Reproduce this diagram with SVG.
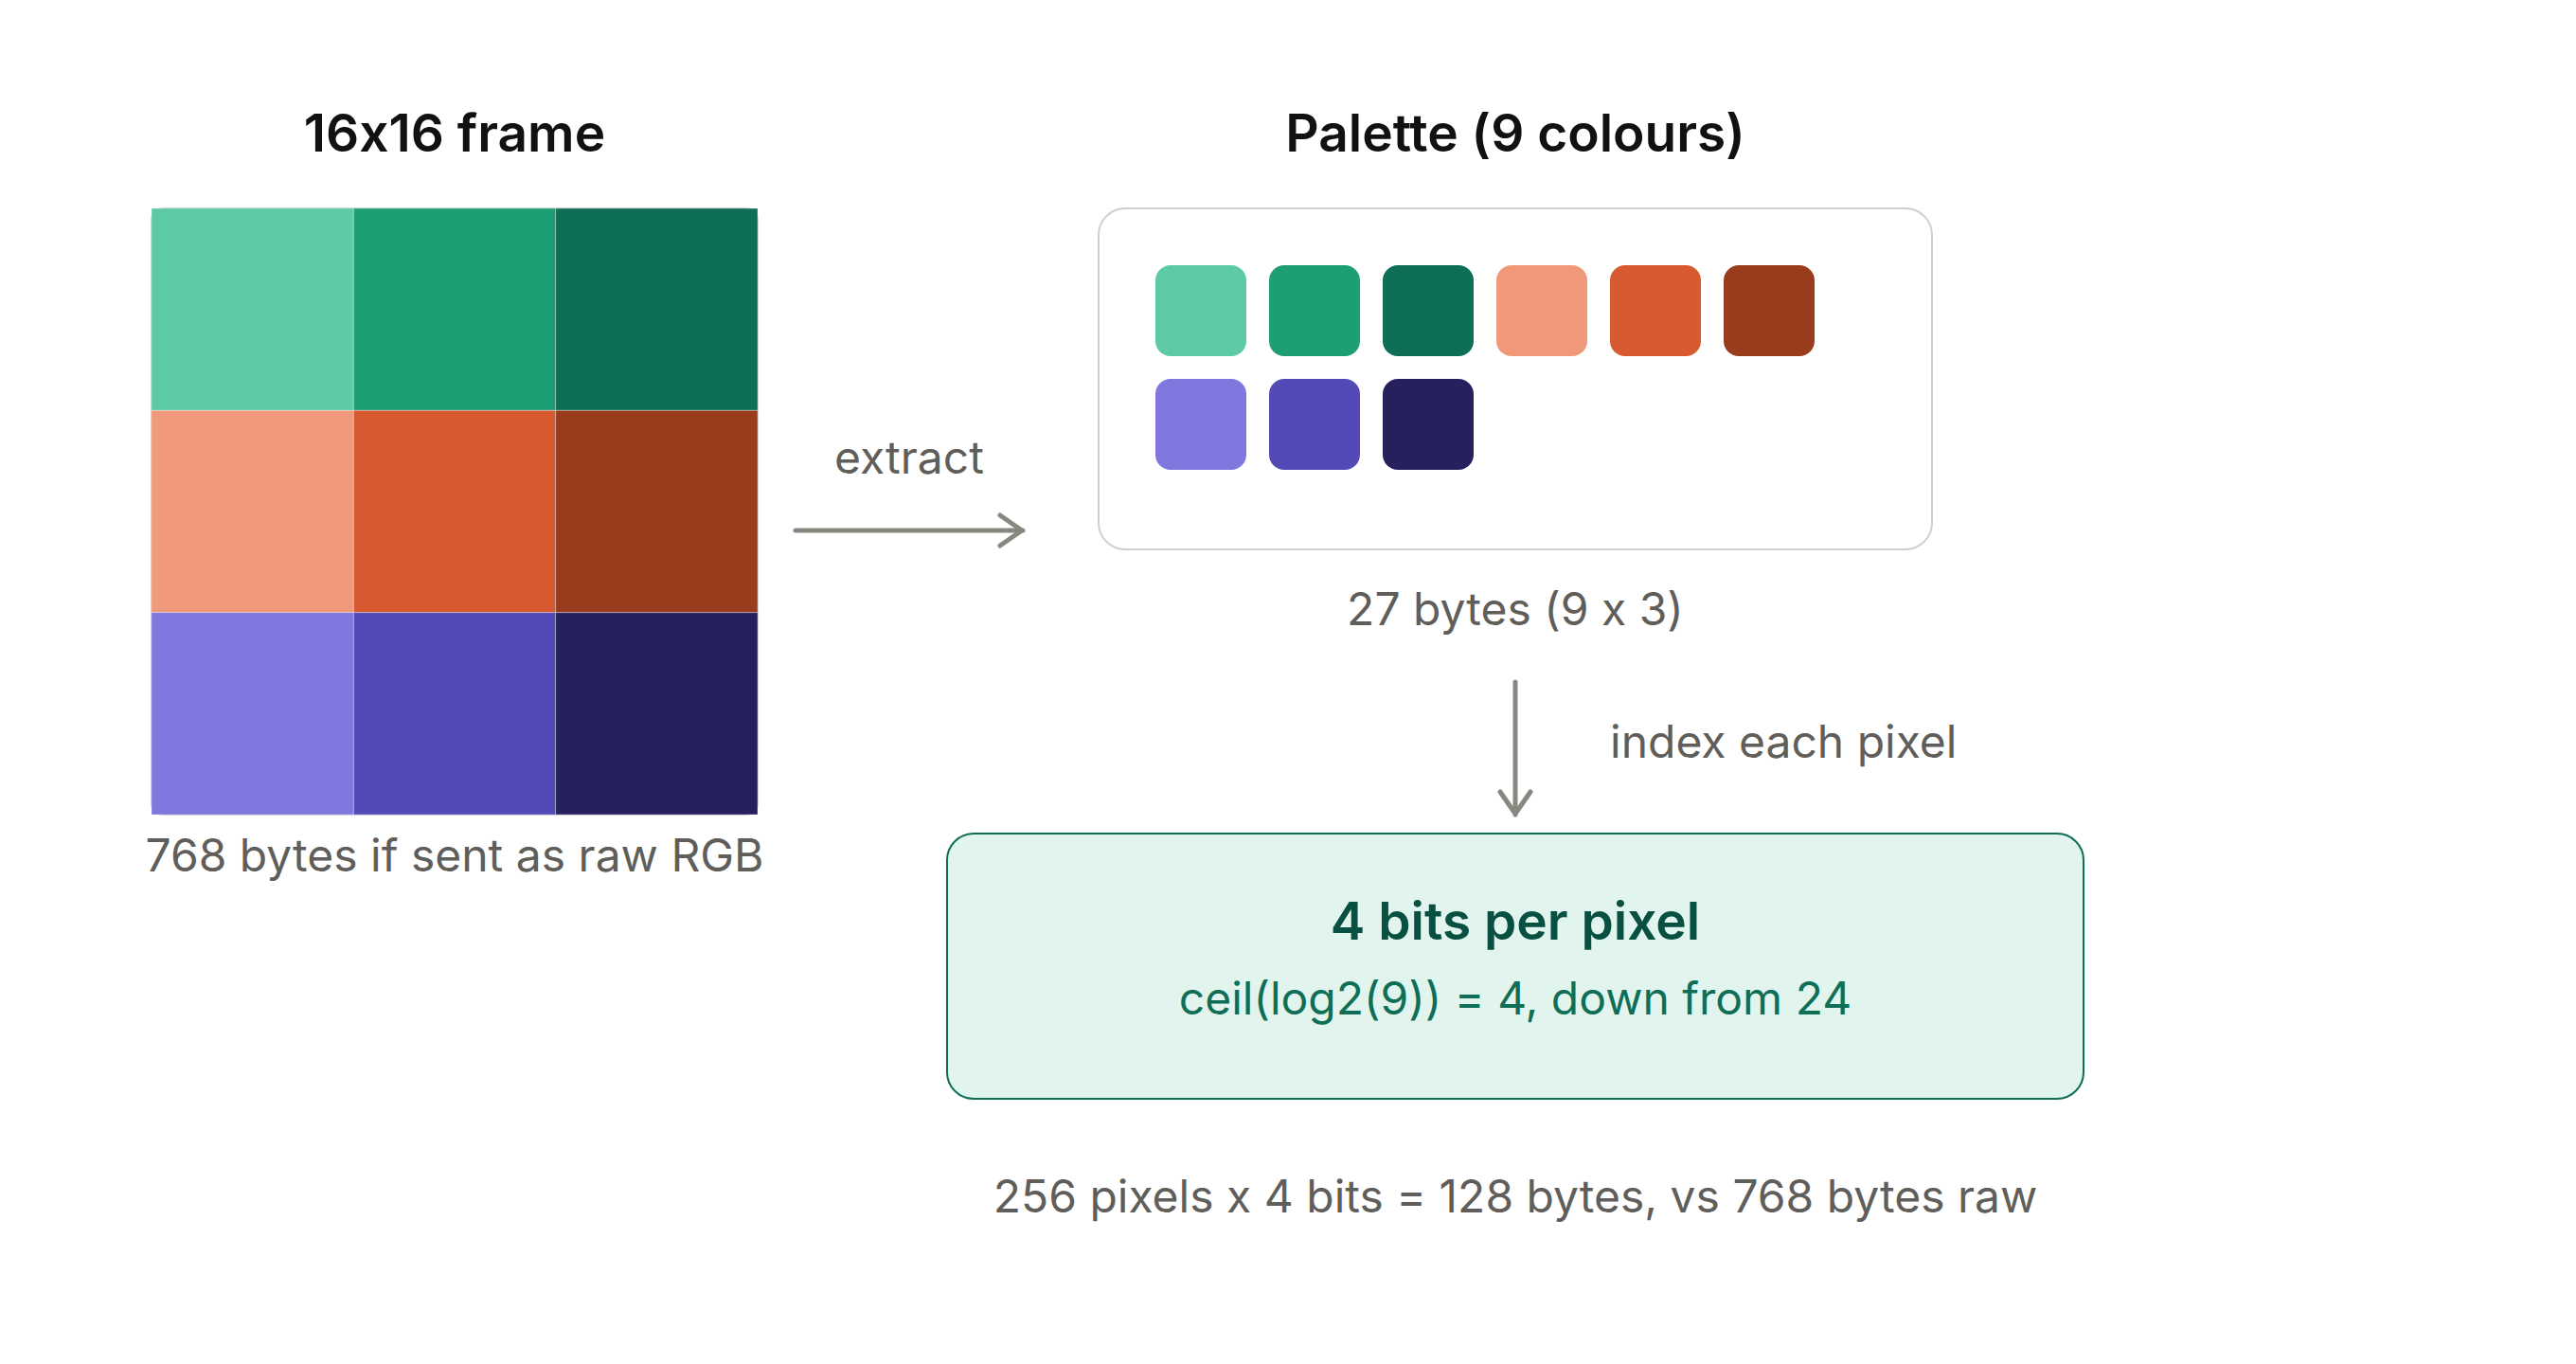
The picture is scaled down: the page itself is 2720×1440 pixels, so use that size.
<svg xmlns="http://www.w3.org/2000/svg" width="2720" height="1440" viewBox="0 0 2720 1440">
  <defs>
    <style>
      text { font-family: Inter, "Noto Sans", "Liberation Sans", sans-serif; font-feature-settings: "calt" 0; font-variant-ligatures: no-contextual; }
      .title { font-size: 55px; font-weight: 600; fill: #111111; text-anchor: middle; }
      .label { font-size: 48px; font-weight: 400; fill: #5F5E5A; }
      .mid { text-anchor: middle; }
      .cell { stroke: #ffffff; stroke-opacity: 0.3; stroke-width: 1; }
      .conn { stroke: #888780; stroke-width: 5; fill: none; stroke-linecap: round; }
      .boxTitle { font-size: 55px; font-weight: 600; fill: #085041; text-anchor: middle; }
      .boxSub { font-size: 48px; font-weight: 400; fill: #0F6E56; text-anchor: middle; }
    </style>
    <marker id="arrow" viewBox="0 0 30 40" refX="28" refY="20" markerWidth="30" markerHeight="40" markerUnits="userSpaceOnUse" orient="auto">
      <path d="M4 4 L27 20 L4 36" fill="none" stroke="#888780" stroke-width="5" stroke-linecap="round" stroke-linejoin="round"/>
    </marker>
  </defs>
  <rect width="2720" height="1440" fill="#ffffff"/>

  <g id="frame">
    <text class="title" x="480" y="160">16x16 frame</text>
    <rect x="160" y="220" width="640" height="640" rx="12" fill="none" stroke="#cccccc" stroke-width="2"/>
    <rect class="cell" x="160" y="220" width="213.33" height="213.33" fill="#5DCAA5"/>
    <rect class="cell" x="373.33" y="220" width="213.33" height="213.33" fill="#1D9E75"/>
    <rect class="cell" x="586.67" y="220" width="213.33" height="213.33" fill="#0F6E56"/>
    <rect class="cell" x="160" y="433.33" width="213.33" height="213.33" fill="#F0997B"/>
    <rect class="cell" x="373.33" y="433.33" width="213.33" height="213.33" fill="#D85A30"/>
    <rect class="cell" x="586.67" y="433.33" width="213.33" height="213.33" fill="#993C1D"/>
    <rect class="cell" x="160" y="646.67" width="213.33" height="213.33" fill="#7F77DD"/>
    <rect class="cell" x="373.33" y="646.67" width="213.33" height="213.33" fill="#534AB7"/>
    <rect class="cell" x="586.67" y="646.67" width="213.33" height="213.33" fill="#26215C"/>
    <text class="label mid" x="480" y="920">768 bytes if sent as raw RGB</text>
  </g>

  <g id="palette">
    <text class="title" x="1600" y="160">Palette (9 colours)</text>
    <rect x="1160" y="220" width="880" height="360" rx="28" fill="#ffffff" stroke="#cfcfcf" stroke-width="2"/>
    <rect x="1220" y="280" width="96" height="96" rx="16" fill="#5DCAA5"/>
    <rect x="1340" y="280" width="96" height="96" rx="16" fill="#1D9E75"/>
    <rect x="1460" y="280" width="96" height="96" rx="16" fill="#0F6E56"/>
    <rect x="1580" y="280" width="96" height="96" rx="16" fill="#F0997B"/>
    <rect x="1700" y="280" width="96" height="96" rx="16" fill="#D85A30"/>
    <rect x="1820" y="280" width="96" height="96" rx="16" fill="#993C1D"/>
    <rect x="1220" y="400" width="96" height="96" rx="16" fill="#7F77DD"/>
    <rect x="1340" y="400" width="96" height="96" rx="16" fill="#534AB7"/>
    <rect x="1460" y="400" width="96" height="96" rx="16" fill="#26215C"/>
    <text class="label mid" x="1600" y="660">27 bytes (9 x 3)</text>
  </g>

  <g id="result">
    <rect x="1000" y="880" width="1200" height="280" rx="28" fill="#E1F5EE" stroke="#0F6E56" stroke-width="2"/>
    <text class="boxTitle" x="1600" y="992">4 bits per pixel</text>
    <text class="boxSub" x="1600" y="1071">ceil(log2(9)) = 4, down from 24</text>
  </g>

  <g id="summary">
    <text class="label mid" x="1600" y="1280">256 pixels x 4 bits = 128 bytes, vs 768 bytes raw</text>
  </g>

  <g id="connectors">
    <line class="conn" x1="840" y1="560" x2="1080" y2="560" marker-end="url(#arrow)"/>
    <text class="label mid" x="960" y="500">extract</text>
    <line class="conn" x1="1600" y1="720" x2="1600" y2="860" marker-end="url(#arrow)"/>
    <text class="label" x="1700" y="800">index each pixel</text>
  </g>
</svg>
